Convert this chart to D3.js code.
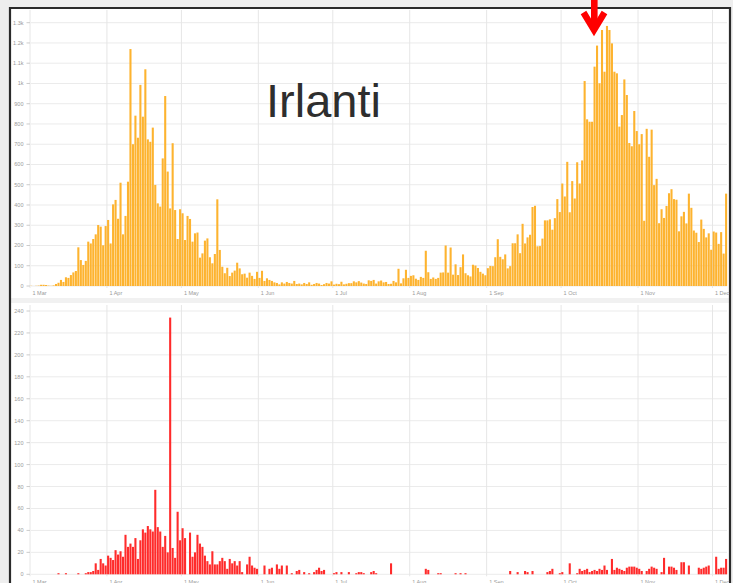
<!DOCTYPE html>
<html><head><meta charset="utf-8">
<script src="https://cdn.jsdelivr.net/npm/d3@7"></script>
<style>html,body{margin:0;padding:0;background:#eeeeee;overflow:hidden} svg{display:block}</style>
</head><body><svg id="c" width="733" height="583"></svg>
<script>
const startDate = "2020-03-01";
const title = "Irlanti";
const cases = [
1,0,1,2,6,6,5,2,1,3,
10,16,30,20,43,40,54,67,74,
191,128,104,124,219,210,232,255,301,293,201,296,326,210,403,425,332,510,255,346,515,
1170,700,841,732,993,836,1070,724,712,782,499,408,392,630,938,565,383,705,375,232,
379,359,227,346,331,219,260,264,140,161,224,235,142,112,158,428,178,95,63,90,
49,66,76,115,87,58,61,41,66,
50,35,70,40,75,25,38,30,25,18,15,8,18,12,20,15,12,25,10,12,8,15,10,18,6,10,15,12,5,9,15,12,23,7,
11,9,21,8,11,14,14,23,18,24,17,12,10,28,25,30,12,23,27,18,20,10,11,25,18,85,13,38,80,40,
50,53,36,30,45,40,174,68,35,42,35,40,66,67,200,66,190,56,107,54,93,156,63,53,47,105,101,89,70,61,53,
88,99,98,142,231,144,132,156,87,98,211,211,255,162,307,210,240,253,390,396,196,197,234,324,324,329,278,335,429,365,
506,442,613,364,518,432,611,506,620,
1012,823,811,811,1083,1187,1001,1264,1058,1284,1264,1198,1058,1050,787,844,1020,943,706,690,864,765,700,750,
322,776,638,772,498,529,310,379,336,395,458,478,429,426,270,344,366,309,456,386,274,263,217,328,282,240,260,179,
269,264,208,266,160,456
];
const deaths = [
0,0,0,0,0,0,0,0,0,0,
0,1,0,0,1,0,0,0,0,1,
0,0,1,2,2,3,10,4,14,10,
8,17,15,13,22,18,21,16,36,25,
28,25,33,14,31,41,38,44,41,39,
77,43,39,25,35,20,234,24,15,57,
31,42,33,0,38,16,20,36,28,25,
17,12,9,21,9,9,12,15,12,5,
14,10,12,8,12,2,0,9,16,8,
6,5,0,0,8,0,5,6,0,9,
5,8,0,8,0,1,0,3,4,0,
2,0,1,0,2,4,6,3,4,0,
0,0,1,2,0,2,0,0,2,0,
0,1,2,2,1,0,0,2,3,1,
0,0,0,0,0,10,0,0,0,0,
0,0,0,0,0,0,0,0,0,5,
4,0,0,0,1,1,0,0,0,0,
0,1,0,1,0,1,0,0,0,0,
0,0,0,0,0,0,0,0,0,0,
0,0,0,3,0,0,2,0,0,3,
2,0,3,0,0,0,0,0,2,3,
5,0,0,1,2,0,0,10,0,0,
1,5,3,4,5,2,3,4,3,5,
4,8,4,0,14,4,6,5,4,3,
6,7,7,7,6,5,3,0,3,5,
7,6,5,0,2,15,0,7,7,6,
4,0,11,11,0,8,0,0,0,6,
5,6,7,8,0,0,16,5,6,6,
14
];
const monthTicks = ["2020-03-01","2020-04-01","2020-05-01","2020-06-01","2020-07-01","2020-08-01","2020-09-01","2020-10-01","2020-11-01","2020-12-01"];
const monthLabels = ["1 Mar","1 Apr","1 May","1 Jun","1 Jul","1 Aug","1 Sep","1 Oct","1 Nov","1 Dec"];
const caseTicks = [0,100,200,300,400,500,600,700,800,900,1000,1100,1200,1300];
const caseTickLabels = ["0","100","200","300","400","500","600","700","800","900","1k","1.1k","1.2k","1.3k"];
const deathTicks = [0,20,40,60,80,100,120,140,160,180,200,220,240];

const svg = d3.select("#c");
const parse = d3.utcParse("%Y-%m-%d");
const t0 = parse(startDate);
const days = cases.map((_, i) => d3.utcDay.offset(t0, i));
const x = d3.scaleUtc().domain([t0, parse("2020-12-01")]).range([30, 712.5]);
const step = x(d3.utcDay.offset(t0, 1)) - x(t0);
const FONT = "'Liberation Sans', Arial, sans-serif";

// frame
svg.append("rect").attr("x", 0).attr("y", 0).attr("width", 733).attr("height", 583).attr("fill", "#eeeeee");
svg.append("rect").attr("x", 10).attr("y", 8).attr("width", 720).attr("height", 290).attr("fill", "#ffffff");
svg.append("rect").attr("x", 10).attr("y", 298).attr("width", 720).attr("height", 5).attr("fill", "#f1f1f1");
svg.append("rect").attr("x", 10).attr("y", 303).attr("width", 720).attr("height", 280).attr("fill", "#ffffff");
svg.append("path").attr("d", "M10,583V8H730V583").attr("fill", "none").attr("stroke", "#2b2b2b").attr("stroke-width", 2.2);

function panel(opts) {
  const { data, y, ticks, labels, top, color, labelY } = opts;
  const g = svg.append("g");
  const y0 = y(0);
  g.selectAll("line.h").data(ticks).join("line")
    .attr("x1", 31).attr("x2", 727).attr("y1", d => y(d)).attr("y2", d => y(d))
    .attr("stroke", "#ebebeb").attr("stroke-width", 1);
  g.selectAll("line.v").data(monthTicks).join("line")
    .attr("x1", d => x(parse(d))).attr("x2", d => x(parse(d)))
    .attr("y1", top).attr("y2", y0 + 2)
    .attr("stroke", "#e6e6e6").attr("stroke-width", 1);
  g.selectAll("line.t").data(ticks).join("line")
    .attr("x1", 26.5).attr("x2", 30).attr("y1", d => y(d)).attr("y2", d => y(d))
    .attr("stroke", "#cccccc").attr("stroke-width", 1);
  g.selectAll("text.y").data(ticks).join("text")
    .attr("x", 23.5).attr("y", d => y(d) + 2)
    .attr("text-anchor", "end").attr("font-family", FONT).attr("font-size", 5.5)
    .attr("fill", "#9a9a9a")
    .text((d, i) => labels ? labels[i] : d);
  g.selectAll("rect.b").data(data).join("rect")
    .attr("x", (d, i) => x(days[i]) + 0.15)
    .attr("width", step - 0.4)
    .attr("y", d => y(d))
    .attr("height", d => y0 - y(d))
    .attr("fill", color);
  g.selectAll("text.x").data(monthTicks).join("text")
    .attr("x", d => x(parse(d)) + 2.5).attr("y", labelY)
    .attr("font-family", FONT).attr("font-size", 5.5).attr("fill", "#9a9a9a")
    .text((d, i) => monthLabels[i]);
}

const yTop = d3.scaleLinear().domain([0, 1300]).range([286, 22.7]);
const yBot = d3.scaleLinear().domain([0, 240]).range([574.3, 311]);
panel({ data: cases, y: yTop, ticks: caseTicks, labels: caseTickLabels, top: 10, color: "#fdb32f", labelY: 295 });
panel({ data: deaths, y: yBot, ticks: deathTicks, labels: null, top: 305, color: "#ff2b2b", labelY: 583.5 });

svg.append("text").attr("x", 266).attr("y", 117).attr("font-family", FONT)
  .attr("font-size", 47).attr("fill", "#2e2e2e").text(title);

svg.append("rect").attr("x", 591).attr("y", 0).attr("width", 6.6).attr("height", 24).attr("fill", "#ff0000");
svg.append("path").attr("d", "M583.5,12.5L594,30L604.5,12.5").attr("fill", "none")
  .attr("stroke", "#ff0000").attr("stroke-width", 6.5).attr("stroke-linejoin", "miter").attr("stroke-miterlimit", 10);
</script></body></html>
